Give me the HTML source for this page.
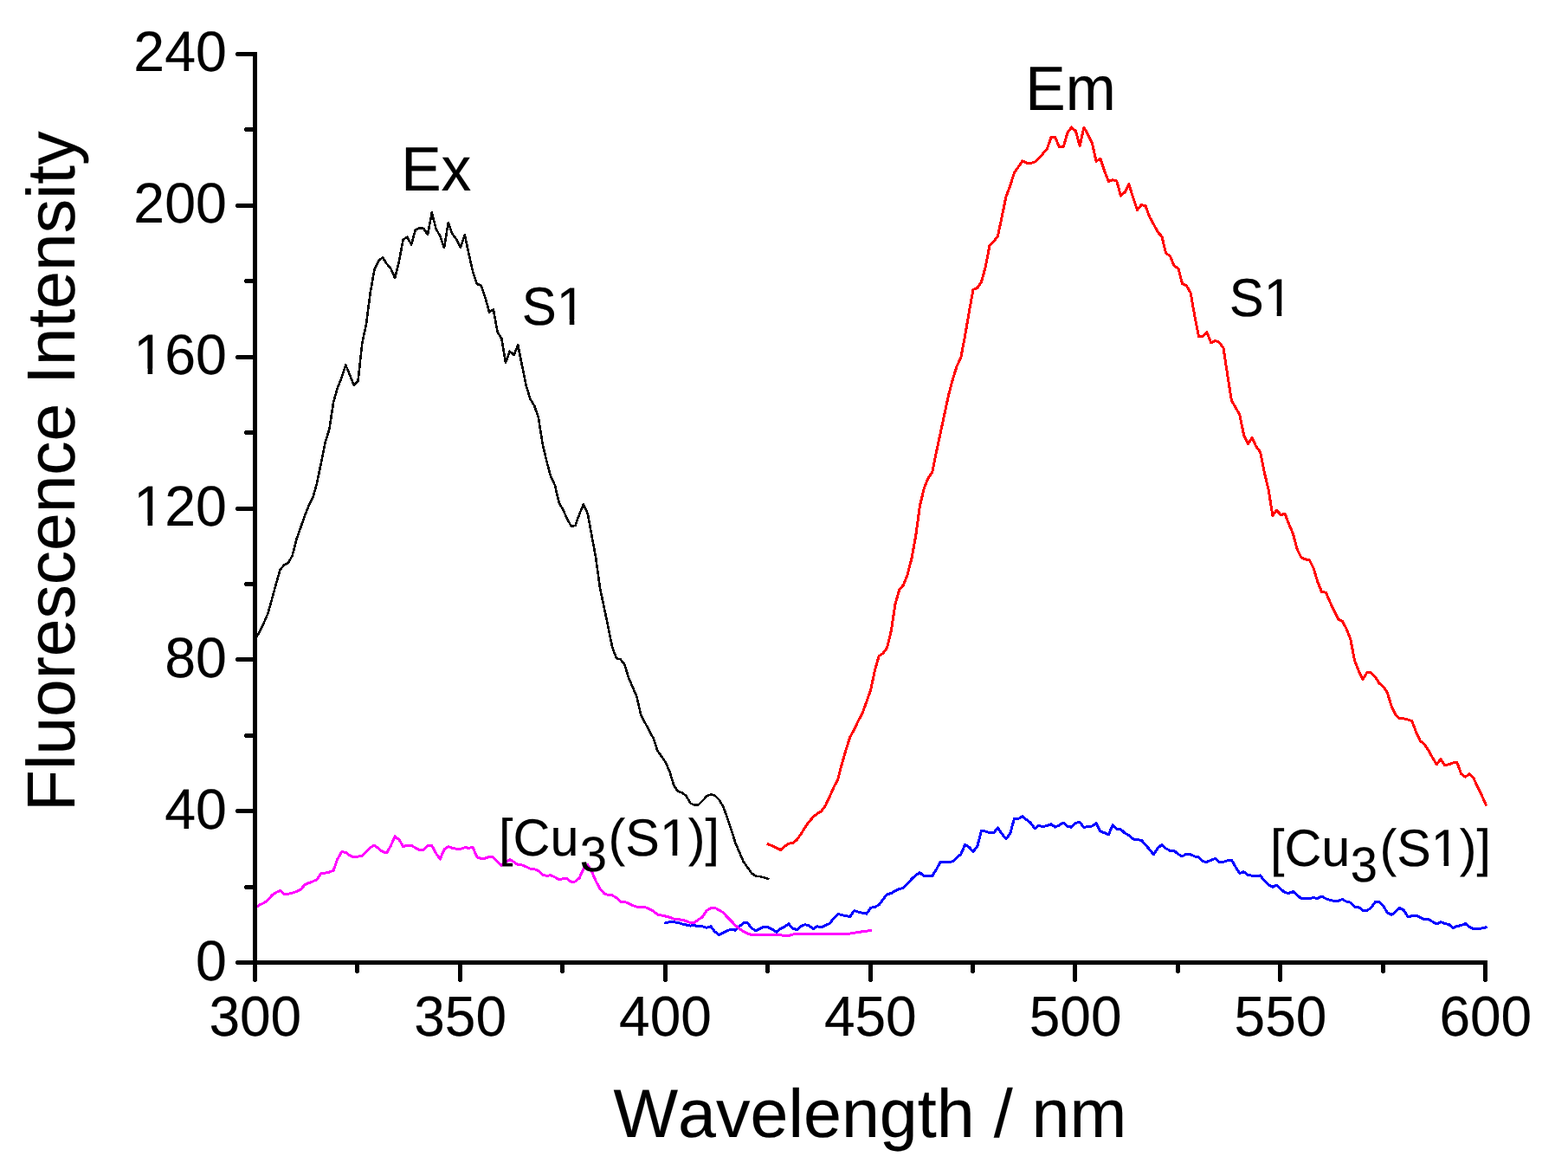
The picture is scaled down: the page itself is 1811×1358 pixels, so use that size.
<!DOCTYPE html>
<html lang="en"><head><meta charset="utf-8"><title>Fluorescence spectra</title>
<style>html,body{margin:0;padding:0;background:#fff}body{width:1811px;height:1358px;overflow:hidden}svg{display:block}text{font-family:"Liberation Sans",sans-serif;fill:#000;stroke:#000;stroke-width:0.15;stroke-linejoin:round;font-kerning:none;text-rendering:geometricPrecision}</style></head><body>
<svg width="1811" height="1358" viewBox="0 0 1811 1358">
<rect width="1811" height="1358" fill="#fff"/>
<polyline points="295.1,737.4 299.8,729.6 304.6,719.7 309.3,708.7 314.0,692.1 318.8,674.4 323.5,657.9 328.3,652.3 333.0,650.1 337.7,641.3 342.5,622.5 347.2,609.3 351.9,596.0 356.7,583.9 361.4,574.6 366.2,557.3 370.9,534.2 375.6,511.0 380.4,495.5 385.1,464.6 389.8,448.0 394.6,435.8 399.3,421.6 404.0,432.8 408.8,444.9 413.5,440.3 418.3,396.3 423.0,374.3 427.7,337.9 432.5,311.3 437.2,301.3 441.9,297.3 446.7,304.7 451.4,310.3 456.1,320.9 460.9,301.9 465.6,276.7 470.4,273.8 475.1,282.6 479.8,265.3 484.6,263.3 489.3,263.9 494.0,270.9 498.8,245.5 503.5,263.9 508.3,272.7 513.0,286.0 517.7,257.3 522.5,270.3 527.2,276.3 531.9,286.0 536.7,271.2 541.4,292.6 546.1,313.6 550.9,327.9 555.6,329.7 560.4,343.3 565.1,360.6 569.8,357.3 574.6,383.6 579.3,390.9 584.0,418.6 588.8,405.7 593.5,410.1 598.2,398.6 603.0,422.3 607.7,445.5 612.5,460.9 617.2,468.6 621.9,482.3 626.7,512.8 631.4,532.7 636.1,550.3 640.9,560.3 645.6,580.2 650.4,589.0 655.1,599.0 659.8,607.8 664.6,606.7 669.3,593.4 674.0,582.3 678.8,593.4 683.5,618.8 688.2,644.3 693.0,679.3 697.7,701.2 702.5,724.3 707.2,747.5 711.9,760.1 716.7,761.5 721.4,767.4 726.1,782.9 730.9,793.9 735.6,805.0 740.3,826.0 745.1,834.8 749.8,843.6 754.6,852.5 759.3,866.8 764.0,873.4 768.8,880.2 773.5,891.2 778.2,906.7 783.0,913.9 787.7,915.5 792.5,919.1 797.2,927.3 801.9,929.7 806.7,929.3 811.4,924.7 816.1,919.6 820.9,917.3 825.6,918.5 830.3,923.3 835.1,931.0 839.8,943.7 844.6,958.0 849.3,973.1 854.0,984.1 858.8,995.2 863.5,1001.8 868.2,1008.4 873.0,1011.7 877.7,1012.2 882.4,1013.3 887.2,1015.0" fill="none" stroke="#000" stroke-width="2.6" stroke-linejoin="round" stroke-linecap="square" shape-rendering="crispEdges"/>
<polyline points="887.2,974.8 891.9,976.8 896.7,979.0 901.4,981.5 906.1,977.5 910.9,974.2 915.6,973.5 920.3,969.8 925.1,963.1 929.8,955.4 934.6,948.8 939.3,943.3 944.0,939.5 948.8,936.6 953.5,930.0 958.2,920.1 963.0,909.0 967.7,900.2 972.4,881.9 977.2,865.3 981.9,851.0 986.7,842.2 991.4,832.2 996.1,823.4 1000.9,810.1 1005.6,796.9 1010.3,774.8 1015.1,757.6 1019.8,754.5 1024.5,748.3 1029.3,728.4 1034.0,697.5 1038.8,680.9 1043.5,675.4 1048.2,663.3 1053.0,644.5 1057.7,618.8 1062.4,584.2 1067.2,564.3 1071.9,552.2 1076.7,545.5 1081.4,522.3 1086.1,500.3 1090.9,478.2 1095.6,456.1 1100.3,438.4 1105.1,422.9 1109.8,413.0 1114.5,388.3 1119.3,360.3 1124.0,334.3 1128.8,332.6 1133.5,325.6 1138.2,308.3 1143.0,283.5 1147.7,279.1 1152.4,272.5 1157.2,250.4 1161.9,227.2 1166.6,215.0 1171.4,199.6 1176.1,192.9 1180.9,185.9 1185.6,188.1 1190.3,188.5 1195.1,187.0 1199.8,183.0 1204.5,177.5 1209.3,172.0 1214.0,158.7 1218.8,158.7 1223.5,169.8 1228.2,169.8 1233.0,153.2 1237.7,147.0 1242.4,151.4 1247.2,168.6 1251.9,147.0 1256.6,155.4 1261.4,165.3 1266.1,186.3 1270.9,183.0 1275.6,197.4 1280.3,209.5 1285.1,207.7 1289.8,209.1 1294.5,226.1 1299.3,221.7 1304.0,212.8 1308.7,228.3 1313.5,242.6 1318.2,236.7 1323.0,237.6 1327.7,250.4 1332.4,258.8 1337.2,268.0 1341.9,273.1 1346.6,292.3 1351.4,295.7 1356.1,306.8 1360.9,310.1 1365.6,327.8 1370.3,329.8 1375.1,338.0 1379.8,364.8 1384.5,388.6 1389.3,388.6 1394.0,383.8 1398.7,395.9 1403.5,393.5 1408.2,395.3 1413.0,401.9 1417.7,432.8 1422.4,462.6 1427.2,470.8 1431.9,479.2 1436.6,502.4 1441.4,512.8 1446.1,505.3 1450.8,515.7 1455.6,521.8 1460.3,545.5 1465.1,565.3 1469.8,595.3 1474.5,589.1 1479.3,594.7 1484.0,593.1 1488.7,605.3 1493.5,616.7 1498.2,634.4 1503.0,643.9 1507.7,645.9 1512.4,646.6 1517.2,656.5 1521.9,672.0 1526.6,683.7 1531.4,684.1 1536.1,695.2 1540.8,705.1 1545.6,715.0 1550.3,717.2 1555.1,726.1 1559.8,738.2 1564.5,762.5 1569.3,774.7 1574.0,784.6 1578.7,776.9 1583.5,776.9 1588.2,781.3 1592.9,789.0 1597.7,792.8 1602.4,800.1 1607.2,815.6 1611.9,825.1 1616.6,829.8 1621.4,829.8 1626.1,831.1 1630.8,832.6 1635.6,845.5 1640.3,855.5 1645.1,859.2 1649.8,866.5 1654.5,874.8 1659.3,882.8 1664.0,876.5 1668.7,883.9 1673.5,882.7 1678.2,881.0 1682.9,880.5 1687.7,893.8 1692.4,897.1 1697.2,893.8 1701.9,898.6 1706.6,908.6 1711.4,918.5 1716.1,929.1" fill="none" stroke="#ff0000" stroke-width="3.0" stroke-linejoin="round" stroke-linecap="square" shape-rendering="crispEdges"/>
<polyline points="768.8,1065.8 773.5,1064.7 778.2,1064.7 783.0,1065.4 787.7,1066.9 792.5,1068.0 797.2,1069.1 801.9,1068.7 806.7,1069.6 811.4,1069.8 816.1,1071.4 820.9,1069.8 825.6,1075.8 830.3,1079.7 835.1,1077.3 839.8,1074.7 844.6,1073.1 849.3,1074.2 854.0,1069.8 858.8,1065.8 863.5,1065.8 868.2,1072.0 873.0,1074.7 877.7,1072.5 882.4,1070.2 887.2,1070.7 891.9,1073.1 896.7,1076.4 901.4,1072.5 906.1,1070.2 910.9,1066.9 915.6,1072.0 920.3,1073.6 925.1,1069.8 929.8,1067.6 934.6,1069.1 939.3,1072.5 944.0,1069.8 948.8,1070.7 953.5,1068.5 958.2,1066.5 963.0,1060.3 967.7,1055.5 972.4,1056.6 977.2,1057.7 981.9,1058.5 986.7,1051.5 991.4,1053.2 996.1,1054.3 1000.9,1055.2 1005.6,1048.2 1010.3,1047.5 1015.1,1044.9 1019.8,1038.9 1024.5,1032.7 1029.3,1031.6 1034.0,1028.7 1038.8,1026.5 1043.5,1025.4 1048.2,1020.6 1053.0,1015.0 1057.7,1010.6 1062.4,1007.7 1067.2,1011.7 1071.9,1011.7 1076.7,1011.7 1081.4,1004.0 1086.1,995.6 1090.9,995.6 1095.6,995.6 1100.3,994.8 1105.1,990.4 1109.8,986.5 1114.5,975.4 1119.3,978.3 1124.0,983.4 1128.8,977.2 1133.5,959.1 1138.2,960.0 1143.0,961.7 1147.7,961.7 1152.4,955.8 1157.2,962.8 1161.9,968.8 1166.6,962.8 1171.4,945.6 1176.1,945.6 1180.9,942.5 1185.6,946.7 1190.3,950.2 1195.1,956.9 1199.8,953.3 1204.5,954.7 1209.3,953.5 1214.0,951.8 1218.8,955.1 1223.5,952.9 1228.2,950.0 1233.0,954.7 1237.7,955.1 1242.4,950.2 1247.2,949.6 1251.9,955.8 1256.6,954.0 1261.4,954.0 1266.1,950.7 1270.9,960.0 1275.6,961.7 1280.3,963.9 1285.1,952.9 1289.8,957.3 1294.5,957.7 1299.3,962.2 1304.0,964.6 1308.7,968.8 1313.5,969.9 1318.2,970.1 1323.0,975.6 1327.7,980.9 1332.4,986.7 1337.2,979.4 1341.9,975.4 1346.6,979.8 1351.4,982.3 1356.1,982.3 1360.9,986.5 1365.6,988.9 1370.3,986.0 1375.1,986.7 1379.8,988.9 1384.5,990.0 1389.3,994.8 1394.0,995.3 1398.7,993.3 1403.5,991.5 1408.2,995.3 1413.0,995.3 1417.7,993.7 1422.4,993.1 1427.2,1001.4 1431.9,1008.4 1436.6,1006.7 1441.4,1010.8 1446.1,1011.1 1450.8,1011.6 1455.6,1010.9 1460.3,1017.1 1465.1,1021.6 1469.8,1024.4 1474.5,1022.1 1479.3,1026.6 1484.0,1030.7 1488.7,1031.4 1493.5,1029.6 1498.2,1033.6 1503.0,1037.8 1507.7,1037.8 1512.4,1037.4 1517.2,1036.7 1521.9,1037.4 1526.6,1035.1 1531.4,1037.8 1536.1,1039.3 1540.8,1040.4 1545.6,1040.4 1550.3,1038.5 1555.1,1041.1 1559.8,1042.2 1564.5,1047.3 1569.3,1047.7 1574.0,1051.1 1578.7,1051.5 1583.5,1048.4 1588.2,1041.8 1592.9,1041.1 1597.7,1046.2 1602.4,1053.9 1607.2,1056.6 1611.9,1052.8 1616.6,1048.4 1621.4,1051.1 1626.1,1058.8 1630.8,1057.7 1635.6,1057.2 1640.3,1059.4 1645.1,1061.7 1649.8,1061.4 1654.5,1064.3 1659.3,1067.0 1664.0,1064.7 1668.7,1066.5 1673.5,1067.6 1678.2,1071.6 1682.9,1069.4 1687.7,1068.7 1692.4,1066.5 1697.2,1070.5 1701.9,1072.7 1706.6,1072.5 1711.4,1072.0 1716.1,1070.9" fill="none" stroke="#0000ff" stroke-width="3.0" stroke-linejoin="round" stroke-linecap="square" shape-rendering="crispEdges"/>
<polyline points="295.1,1047.8 299.8,1045.0 304.6,1042.8 309.3,1039.4 314.0,1033.9 318.8,1030.6 323.5,1028.4 328.3,1032.8 333.0,1032.2 337.7,1031.1 342.5,1029.5 347.2,1027.3 351.9,1021.8 356.7,1019.6 361.4,1017.8 366.2,1015.6 370.9,1008.5 375.6,1008.1 380.4,1007.0 385.1,1005.2 389.8,992.0 394.6,983.8 399.3,984.2 404.0,988.0 408.8,989.8 413.5,989.1 418.3,988.6 423.0,983.8 427.7,978.7 432.5,976.1 437.2,979.8 441.9,983.6 446.7,984.9 451.4,976.5 456.1,965.9 460.9,969.4 465.6,977.6 470.4,976.1 475.1,976.1 479.8,979.2 484.6,981.6 489.3,981.4 494.0,976.1 498.8,976.5 503.5,985.3 508.3,992.0 513.0,980.9 517.7,977.6 522.5,979.4 527.2,980.3 531.9,980.5 536.7,978.7 541.4,979.2 546.1,978.7 550.9,989.8 555.6,991.3 560.4,991.1 565.1,989.5 569.8,990.0 574.6,995.1 579.3,999.5 584.0,995.5 588.8,992.6 593.5,995.3 598.2,998.6 603.0,999.0 607.7,1000.8 612.5,1003.2 617.2,1003.7 621.9,1005.6 626.7,1010.2 631.4,1011.4 636.1,1010.7 640.9,1012.9 645.6,1015.6 650.4,1014.7 655.1,1014.7 659.8,1018.5 664.6,1017.9 669.3,1013.7 674.0,1003.0 678.8,998.6 683.5,1006.3 688.2,1017.4 693.0,1026.2 697.7,1031.7 702.5,1033.5 707.2,1033.9 711.9,1036.8 716.7,1041.2 721.4,1041.2 726.1,1043.4 730.9,1045.6 735.6,1047.2 740.3,1047.6 745.1,1047.6 749.8,1049.4 754.6,1052.3 759.3,1056.0 764.0,1057.0 768.8,1058.1 773.5,1059.2 778.2,1061.0 783.0,1061.9 787.7,1062.1 792.5,1063.6 797.2,1065.4 801.9,1065.4 806.7,1061.9 811.4,1058.8 816.1,1051.5 820.9,1048.8 825.6,1048.2 830.3,1050.8 835.1,1053.7 839.8,1058.8 844.6,1063.6 849.3,1068.5 854.0,1072.5 858.8,1075.8 863.5,1078.0 868.2,1079.5 873.0,1079.5 877.7,1079.1 882.4,1079.1 887.2,1079.1 891.9,1079.1 896.7,1079.7 901.4,1079.7 906.1,1080.6 910.9,1080.6 915.6,1079.1 920.3,1078.0 925.1,1078.0 929.8,1078.6 934.6,1078.6 939.3,1078.6 944.0,1078.0 948.8,1078.3 953.5,1078.3 958.2,1078.3 963.0,1078.6 967.7,1078.6 972.4,1078.4 977.2,1078.0 981.9,1078.0 986.7,1077.3 991.4,1076.4 996.1,1075.8 1000.9,1075.1 1005.6,1074.7" fill="none" stroke="#ff00ff" stroke-width="3.0" stroke-linejoin="round" stroke-linecap="square" shape-rendering="crispEdges"/>
<g stroke="#000" stroke-width="5" fill="none" stroke-linecap="round" shape-rendering="crispEdges">
<path stroke-linejoin="miter" d="M274.5,62.5 L294.5,62.5 L294.5,1131.5"/>
<path stroke-linejoin="miter" d="M274.5,1111.5 L1715.5,1111.5 L1715.5,1131.5"/>
<line x1="284.5" y1="1024.5" x2="292.0" y2="1024.5"/>
<line x1="274.5" y1="936.5" x2="292.0" y2="936.5"/>
<line x1="284.5" y1="849.5" x2="292.0" y2="849.5"/>
<line x1="274.5" y1="761.5" x2="292.0" y2="761.5"/>
<line x1="284.5" y1="674.5" x2="292.0" y2="674.5"/>
<line x1="274.5" y1="587.5" x2="292.0" y2="587.5"/>
<line x1="284.5" y1="499.5" x2="292.0" y2="499.5"/>
<line x1="274.5" y1="412.5" x2="292.0" y2="412.5"/>
<line x1="284.5" y1="324.5" x2="292.0" y2="324.5"/>
<line x1="274.5" y1="237.5" x2="292.0" y2="237.5"/>
<line x1="284.5" y1="149.5" x2="292.0" y2="149.5"/>
<line x1="412.5" y1="1114.0" x2="412.5" y2="1121.5"/>
<line x1="531.5" y1="1114.0" x2="531.5" y2="1131.5"/>
<line x1="649.5" y1="1114.0" x2="649.5" y2="1121.5"/>
<line x1="768.5" y1="1114.0" x2="768.5" y2="1131.5"/>
<line x1="886.5" y1="1114.0" x2="886.5" y2="1121.5"/>
<line x1="1005.5" y1="1114.0" x2="1005.5" y2="1131.5"/>
<line x1="1123.5" y1="1114.0" x2="1123.5" y2="1121.5"/>
<line x1="1241.5" y1="1114.0" x2="1241.5" y2="1131.5"/>
<line x1="1360.5" y1="1114.0" x2="1360.5" y2="1121.5"/>
<line x1="1478.5" y1="1114.0" x2="1478.5" y2="1131.5"/>
<line x1="1597.5" y1="1114.0" x2="1597.5" y2="1121.5"/>
</g>
<text transform="translate(261.80,1131.90) scale(1.0,1.02)" font-size="64.4" text-anchor="end">0</text>
<text transform="translate(261.80,956.93) scale(1.0,1.02)" font-size="64.4" text-anchor="end">40</text>
<text transform="translate(261.80,781.96) scale(1.0,1.02)" font-size="64.4" text-anchor="end">80</text>
<text transform="translate(261.80,607.00) scale(1.0,1.02)" font-size="64.4" text-anchor="end">120</text>
<rect x="157.58" y="600.67" width="13.03" height="8.41" fill="#fff"/><rect x="176.17" y="600.67" width="12.30" height="8.41" fill="#fff"/>
<text transform="translate(261.80,432.03) scale(1.0,1.02)" font-size="64.4" text-anchor="end">160</text>
<rect x="157.58" y="425.70" width="13.03" height="8.41" fill="#fff"/><rect x="176.17" y="425.70" width="12.30" height="8.41" fill="#fff"/>
<text transform="translate(261.80,257.06) scale(1.0,1.02)" font-size="64.4" text-anchor="end">200</text>
<text transform="translate(261.80,82.09) scale(1.0,1.02)" font-size="64.4" text-anchor="end">240</text>
<text transform="translate(294.80,1196.20) scale(1.0,1.02)" font-size="64.0" text-anchor="middle">300</text>
<text transform="translate(531.63,1196.20) scale(1.0,1.02)" font-size="64.0" text-anchor="middle">350</text>
<text transform="translate(768.47,1196.20) scale(1.0,1.02)" font-size="64.0" text-anchor="middle">400</text>
<text transform="translate(1005.30,1196.20) scale(1.0,1.02)" font-size="64.0" text-anchor="middle">450</text>
<text transform="translate(1242.13,1196.20) scale(1.0,1.02)" font-size="64.0" text-anchor="middle">500</text>
<text transform="translate(1478.97,1196.20) scale(1.0,1.02)" font-size="64.0" text-anchor="middle">550</text>
<text transform="translate(1715.80,1196.20) scale(1.0,1.02)" font-size="64.0" text-anchor="middle">600</text>
<text transform="translate(708.50,1312.80)" font-size="79.0">Wavelength / nm</text>
<text transform="translate(85.90,937.00) rotate(-90)" font-size="78.5">Fluorescence Intensity</text>
<text transform="translate(463.20,219.50) scale(1,1.04)" font-size="69.6">Ex</text>
<text transform="translate(1184.30,126.70) scale(1,1.04)" font-size="69.6">Em</text>
<text transform="translate(602.80,375.30) scale(1,1.03)" font-size="60" stroke-width="0.5">S1</text>
<rect x="645.57" y="369.11" width="12.22" height="8.44" fill="#fff"/><rect x="663.33" y="369.11" width="11.54" height="8.44" fill="#fff"/>
<text transform="translate(1419.70,364.70) scale(1,1.03)" font-size="60" stroke-width="0.5">S1</text>
<rect x="1462.47" y="358.51" width="12.22" height="8.44" fill="#fff"/><rect x="1480.23" y="358.51" width="11.54" height="8.44" fill="#fff"/>
<text transform="translate(576.10,988.30) scale(1,1.02)" font-size="59.3" stroke-width="0.5">[Cu<tspan x="93.57" y="17.50" font-size="56">3</tspan><tspan x="126.51" y="0">(S1)]</tspan></text>
<rect x="764.61" y="982.21" width="12.09" height="8.34" fill="#fff"/><rect x="782.19" y="982.21" width="11.42" height="8.34" fill="#fff"/>
<text transform="translate(1467.00,1000.00) scale(1,1.02)" font-size="59.3" stroke-width="0.5">[Cu<tspan x="92.87" y="17.50" font-size="56">3</tspan><tspan x="126.51" y="0">(S1)]</tspan></text>
<rect x="1655.51" y="993.91" width="12.09" height="8.34" fill="#fff"/><rect x="1673.09" y="993.91" width="11.42" height="8.34" fill="#fff"/>
</svg></body></html>
